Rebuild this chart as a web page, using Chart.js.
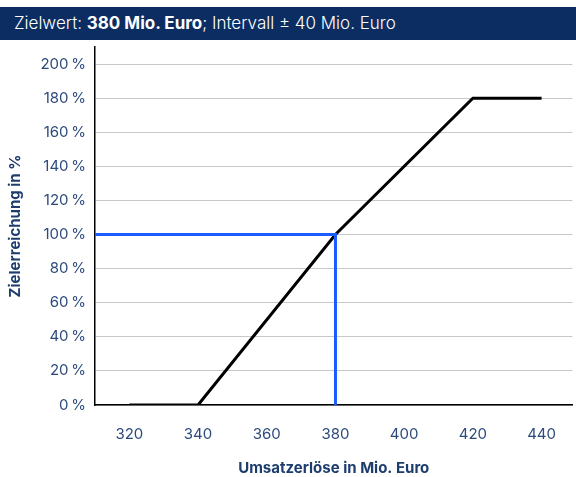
<!DOCTYPE html>
<html>
<head>
<meta charset="utf-8">
<script src="https://cdn.jsdelivr.net/npm/chart.js@4"></script>
<style>
  html, body { margin: 0; padding: 0; background: #fff; }
  #wrap { position: relative; width: 576px; height: 477px; }
  #banner {
    position: absolute; left: 0; top: 7px; width: 576px; height: 33px;
    background: #0b2d62; color: #fff; font-family: Inter, sans-serif; font-weight: 300;
    font-size: 17px; line-height: 33px; padding-left: 14px; box-sizing: border-box;
  }
  #banner b { font-weight: 700; }
  canvas { position: absolute; left: 0; top: 0; }
</style>
</head>
<body>
<div id="wrap">
  <canvas id="chart" width="576" height="477"></canvas>
  <div id="banner">Zielwert: <b>380 Mio. Euro</b>; Intervall ± 40 Mio. Euro</div>
</div>
<script>
// Zielerreichungskurve
const curveX = [320, 340, 380, 420, 440];
const curveY = [0, 0, 100, 180, 180];
const targetX = [310, 380, 380];
const targetY = [100, 100, 0];
const xTicks = [320, 340, 360, 380, 400, 420, 440];
const yTicks = [0, 20, 40, 60, 80, 100, 120, 140, 160, 180, 200];

const tickColor = '#2c4a7c';
const titleColor = '#1c3d6e';

new Chart(document.getElementById('chart'), {
  type: 'scatter',
  data: {
    datasets: [
      {
        data: targetX.map((x, i) => ({ x: x, y: targetY[i] })),
        showLine: true,
        borderColor: '#1a5cff',
        borderWidth: 3,
        pointRadius: 0,
        fill: false
      },
      {
        data: curveX.map((x, i) => ({ x: x, y: curveY[i] })),
        showLine: true,
        borderColor: '#000',
        borderWidth: 3,
        pointRadius: 0,
        fill: false
      }
    ]
  },
  options: {
    responsive: false,
    animation: false,
    layout: { padding: { top: 47, right: 0, left: 0, bottom: 0 } },
    plugins: { legend: { display: false }, tooltip: { enabled: false } },
    scales: {
      x: {
        type: 'linear',
        min: 310,
        max: 449,
        afterBuildTicks: axis => { axis.ticks = xTicks.map(v => ({ value: v })); },
        afterFit: axis => { axis.height = 72; },
        grid: { display: false, drawTicks: false },
        border: { display: true, color: '#000', width: 1.5 },
        ticks: { color: tickColor, font: { family: 'Inter', size: 15 }, padding: 20 },
        title: {
          display: true,
          text: 'Umsatzerlöse in Mio. Euro',
          color: titleColor,
          font: { family: 'Inter', size: 15, weight: 'bold' },
          padding: { top: 12, bottom: 0 }
        }
      },
      y: {
        min: 0,
        max: 210,
        afterBuildTicks: axis => { axis.ticks = yTicks.map(v => ({ value: v })); },
        afterFit: axis => { axis.width = 95; },
        grid: { color: '#c8c8c8', lineWidth: 1, drawTicks: false },
        border: { display: true, color: '#000', width: 1.5 },
        ticks: {
          color: tickColor,
          font: { family: 'Inter', size: 15 },
          padding: 9,
          callback: v => v + '\u2009%'
        },
        title: {
          display: true,
          text: 'Zielerreichung in %',
          color: titleColor,
          font: { family: 'Inter', size: 15, weight: 'bold' },
          padding: { top: 6, bottom: 0 }
        }
      }
    }
  }
});
</script>
</body>
</html>
